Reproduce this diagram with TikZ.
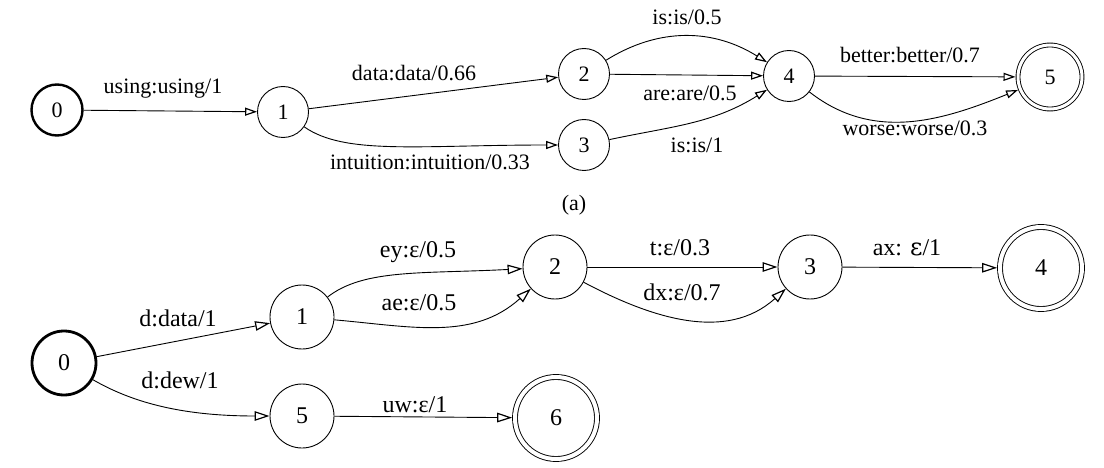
\documentclass[tikz,border=0pt]{standalone}
\usepackage{fontspec}
\setmainfont{Liberation Serif}
\newfontfamily\epsfont{DejaVu Serif}
\usetikzlibrary{arrows.meta}
\begin{document}
\begin{tikzpicture}[x=1pt,y=-1pt,
  tnode/.style={circle,draw,line width=0.9pt,inner sep=0pt,minimum size=51pt,font=\fontsize{22}{24}\selectfont},
  tstart/.style={tnode,line width=2.4pt},
  tfinal/.style={tnode,double,double distance=3pt,line width=0.9pt,minimum size=64pt,outer sep=2.5pt},
  bnode/.style={circle,draw,line width=0.9pt,inner sep=0pt,minimum size=64pt,font=\fontsize{24}{26}\selectfont},
  bstart/.style={bnode,line width=2.8pt},
  bfinal/.style={bnode,double,double distance=4pt,line width=0.9pt,minimum size=82pt,outer sep=2.8pt},
  tarr/.style={line width=0.9pt,-{Triangle[open,length=12pt,width=8pt,line width=1.2pt]}},
  barr/.style={line width=0.9pt,-{Triangle[open,length=15pt,width=9.5pt,line width=1.2pt]}},
  tlab/.style={inner sep=0pt,font=\fontsize{22}{24}\selectfont},
  blab/.style={inner sep=0pt,font=\fontsize{24}{26}\selectfont}
]
\useasboundingbox (0,0) rectangle (1104,468);
% ---- (a) ----
\node[tstart] (t0) at (57,110) {0};
\node[tnode] (t1) at (283,112) {1};
\node[tnode] (t2) at (584,74) {2};
\node[tnode] (t3) at (584,145) {3};
\node[tnode] (t4) at (789,76) {4};
\node[tfinal] (t5) at (1050,77) {5};
\draw[tarr] (t0) -- (t1);
\draw[tarr] (t1) -- (t2);
\draw[tarr] (t1) to[out=-35,in=180,out looseness=0.5,in looseness=1.4] (t3);
\draw[tarr] (t2) to[out=32,in=148] (t4);
\draw[tarr] (t2) -- (t4);
\draw[tarr] (t3) to[out=12,in=-148] (t4);
\draw[tarr] (t4) -- (t5);
\draw[tarr] (t4) to[out=-38,in=-158] (t5);
\node[tlab] (l01) at (163,89) {using:using/1};
\node[tlab] (l12) at (414,73) {data:data/0.66};
\node[tlab] (l13) at (430,162) {intuition:intuition/0.33};
\node[tlab] (l24a) at (687,17) {is:is/0.5};
\node[tlab] (l24b) at (690,93) {are:are/0.5};
\node[tlab] (l34) at (697,145) {is:is/1};
\node[tlab] (l45a) at (910,55) {better:better/0.7};
\node[tlab] (l45b) at (915,128) {worse:worse/0.3};
\node[tlab] (cap) at (574,205) {(a)};
% ---- (b) ----
\node[bstart] (b0) at (64,363) {0};
\node[bnode] (b1) at (302,317) {1};
\node[bnode] (b5) at (302,416) {5};
\node[bnode] (b2) at (555,267) {2};
\node[bnode] (b3) at (810,267) {3};
\node[bfinal] (b4) at (1041,268) {4};
\node[bfinal] (b6) at (556,418) {6};
\draw[barr] (b0) -- (b1);
\draw[barr] (b0) to[out=-30,in=180,out looseness=0.6,in looseness=1.3] (b5);
\draw[barr] (b1) to[out=38,in=183,out looseness=0.6,in looseness=1.3] (b2);
\draw[barr] (b1) to[out=-5,in=-138] (b2);
\draw[barr] (b2) -- (b3);
\draw[barr] (b2) to[out=-28,in=-138] (b3);
\draw[barr] (b3) -- (b4);
\draw[barr] (b5) -- (b6);
\node[blab] (m01) at (178,318) {d:data/1};
\node[blab] (m05) at (180,380) {d:dew/1};
\node[blab] (m12a) at (418,252) {ey:ε/0.5};
\node[blab] (m12b) at (419,303) {ae:ε/0.5};
\node[blab] (m23a) at (680,248) {t:ε/0.3};
\node[blab] (m23b) at (682,292) {dx:ε/0.7};
\node[blab] (m34) at (907,248) {ax: {\epsfont ε}/1};
\node[blab] (m56) at (415,405) {uw:ε/1};
\end{tikzpicture}
\end{document}
